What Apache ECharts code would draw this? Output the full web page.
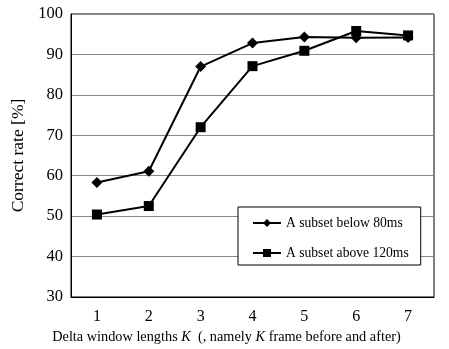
<!DOCTYPE html>
<html>
<head>
<meta charset="utf-8">
<script src="https://cdn.jsdelivr.net/npm/echarts@6/dist/echarts.min.js"></script>
<style>html,body{margin:0;padding:0;background:#fff}#c{width:449px;height:349px}</style>
</head>
<body>
<div id="c"></div>
<script>
var categories = ['1', '2', '3', '4', '5', '6', '7'];
var seriesBelow80 = [58.3, 61.1, 87.0, 92.8, 94.3, 94.1, 94.2];
var seriesAbove120 = [50.4, 52.5, 72.0, 87.1, 90.9, 95.8, 94.7];
var seriesNames = ['A subset below 80ms', 'A subset above 120ms'];
var yTicks = [30, 40, 50, 60, 70, 80, 90, 100];

var font = 'Liberation Serif';
var chart = echarts.init(document.getElementById('c'));
chart.setOption({
  animation: false,
  textStyle: { fontFamily: font, color: '#000' },
  grid: { left: 71, right: 15, top: 14, bottom: 51, show: true, borderColor: '#000', borderWidth: 1 },
  xAxis: {
    type: 'category', data: categories, boundaryGap: true,
    axisLine: { lineStyle: { color: '#000', width: 1 } },
    axisTick: { inside: true, length: 3, lineStyle: { color: '#000' } },
    axisLabel: { fontFamily: font, fontSize: 16, color: '#000', margin: 12 },
    name: 'Delta window lengths {i|K}  (, namely {i|K} frame before and after)',
    nameLocation: 'middle', nameGap: 33,
    nameTextStyle: { fontFamily: font, fontSize: 14.3, color: '#000', padding: [0, 52, 0, 0],
      rich: { i: { fontFamily: font, fontSize: 14.3, fontStyle: 'italic', color: '#000' } } }
  },
  yAxis: {
    type: 'value', min: 30, max: 100, interval: 10,
    axisLine: { show: true, lineStyle: { color: '#000' } },
    axisTick: { show: false },
    splitLine: { lineStyle: { color: '#888', width: 1 } },
    axisLabel: { fontFamily: font, fontSize: 16.5, color: '#000', margin: 8,
      formatter: function (v) { return yTicks.indexOf(v) >= 0 ? String(v) : ''; } },
    name: 'Correct rate [%]', nameLocation: 'middle', nameGap: 43, nameRotate: 90,
    nameTextStyle: { fontFamily: font, fontSize: 17.5, color: '#000' }
  },
  legend: {
    orient: 'vertical', left: 238, top: 207,
    backgroundColor: '#fff', borderColor: '#000', borderWidth: 1, borderRadius: 0,
    padding: [9, 12, 5, 14], itemGap: 16, itemWidth: 28, itemHeight: 10,
    textStyle: { fontFamily: font, fontSize: 13.6, color: '#000' },
    data: seriesNames
  },
  series: [
    { name: seriesNames[0], type: 'line', data: seriesBelow80, symbol: 'diamond', symbolSize: 11,
      lineStyle: { color: '#000', width: 2 }, itemStyle: { color: '#000' } },
    { name: seriesNames[1], type: 'line', data: seriesAbove120, symbol: 'rect', symbolSize: 10,
      lineStyle: { color: '#000', width: 2 }, itemStyle: { color: '#000' } }
  ]
});
</script>
</body>
</html>
